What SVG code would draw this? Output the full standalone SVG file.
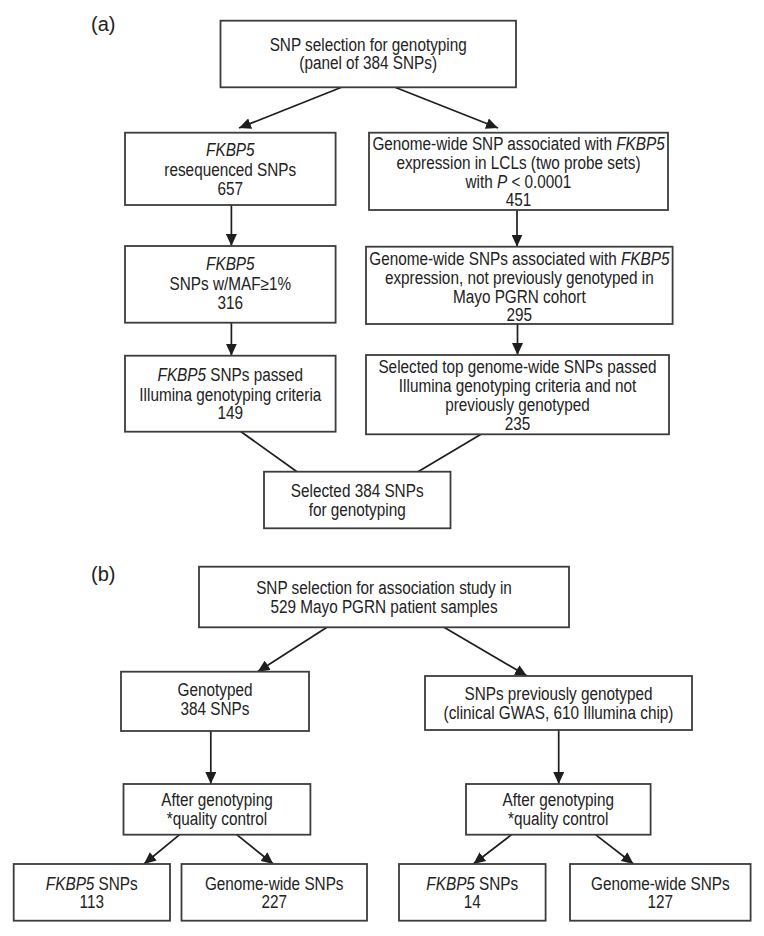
<svg xmlns="http://www.w3.org/2000/svg" width="764" height="936" viewBox="0 0 764 936">
<style>
.box{fill:#fff;stroke:#3c3c3c;stroke-width:1.8}
.t{font-family:"Liberation Sans",Arial,Helvetica,sans-serif;font-size:17.6px;fill:#222;text-anchor:middle;transform-box:fill-box;transform-origin:center;transform:scale(0.87,1)}
.i{font-style:italic}
.lbl{font-family:"Liberation Sans",Arial,Helvetica,sans-serif;font-size:20px;fill:#222}
.c{stroke:#1e1e1e;stroke-width:1.7;fill:none}
</style>
<defs>
<marker id="ah" markerUnits="userSpaceOnUse" markerWidth="12" markerHeight="11" refX="12" refY="5.5" orient="auto" viewBox="0 0 12 11">
<path d="M0,0 L12,5.5 L0,11 z" fill="#1e1e1e"/>
</marker>
</defs>
<rect width="764" height="936" fill="#fff"/>
<text class="lbl" x="91" y="31">(a)</text>
<text class="lbl" x="91" y="581">(b)</text>

<g id="connectors">
<line class="c" x1="341.6" y1="87.3" x2="239" y2="128" marker-end="url(#ah)"/>
<line class="c" x1="395" y1="87.3" x2="498" y2="128" marker-end="url(#ah)"/>
<line class="c" x1="231.4" y1="205" x2="231.4" y2="246" marker-end="url(#ah)"/>
<line class="c" x1="517" y1="210" x2="517" y2="246.7" marker-end="url(#ah)"/>
<line class="c" x1="231.4" y1="322.7" x2="231.4" y2="355.7" marker-end="url(#ah)"/>
<line class="c" x1="517.5" y1="324" x2="517.5" y2="355" marker-end="url(#ah)"/>
<line class="c" x1="241" y1="431.7" x2="297" y2="471.7"/>
<line class="c" x1="481" y1="434.3" x2="418" y2="471.7"/>
<line class="c" x1="327" y1="627.3" x2="257.6" y2="671.7" marker-end="url(#ah)"/>
<line class="c" x1="444" y1="627.3" x2="527" y2="676" marker-end="url(#ah)"/>
<line class="c" x1="210.8" y1="731" x2="210.8" y2="784" marker-end="url(#ah)"/>
<line class="c" x1="558.7" y1="730" x2="558.7" y2="784" marker-end="url(#ah)"/>
<line class="c" x1="179.6" y1="834.7" x2="144" y2="864" marker-end="url(#ah)"/>
<line class="c" x1="236.7" y1="834.7" x2="273.3" y2="864" marker-end="url(#ah)"/>
<line class="c" x1="511.5" y1="834.7" x2="473.4" y2="864" marker-end="url(#ah)"/>
<line class="c" x1="595.5" y1="834.7" x2="633.5" y2="864" marker-end="url(#ah)"/>
</g>

<g id="a-top">
<rect class="box" x="220.5" y="20.7" width="295.5" height="66.6"/>
<text class="t" x="368.2" y="51.3">SNP selection for genotyping</text>
<text class="t" x="368.2" y="69.3">(panel of 384 SNPs)</text>
</g>
<g id="a-fkbp5-reseq">
<rect class="box" x="125" y="132.7" width="210.6" height="72.3"/>
<text class="t i" x="230.3" y="156.3">FKBP5</text>
<text class="t" x="230.3" y="175.6">resequenced SNPs</text>
<text class="t" x="230.3" y="194.6">657</text>
</g>
<g id="a-gw-assoc">
<rect class="box" x="369" y="132.7" width="299" height="77.3"/>
<text class="t" x="518.5" y="149.6">Genome-wide SNP associated with <tspan class="i">FKBP5</tspan></text>
<text class="t" x="518.5" y="169">expression in LCLs (two probe sets)</text>
<text class="t" x="518.5" y="188">with <tspan class="i">P</tspan> &lt; 0.0001</text>
<text class="t" x="518.5" y="206.3">451</text>
</g>
<g id="a-fkbp5-maf">
<rect class="box" x="125" y="246" width="210.6" height="76.7"/>
<text class="t i" x="230.3" y="270.3">FKBP5</text>
<text class="t" x="230.3" y="289.6">SNPs w/MAF≥1%</text>
<text class="t" x="230.3" y="309">316</text>
</g>
<g id="a-gw-notgeno">
<rect class="box" x="366" y="246.7" width="306.6" height="77.3"/>
<text class="t" x="519.3" y="264.6">Genome-wide SNPs associated with <tspan class="i">FKBP5</tspan></text>
<text class="t" x="519.3" y="283.6">expression, not previously genotyped in</text>
<text class="t" x="519.3" y="303">Mayo PGRN cohort</text>
<text class="t" x="519.3" y="321.3">295</text>
</g>
<g id="a-fkbp5-passed">
<rect class="box" x="125" y="355.7" width="210.6" height="76"/>
<text class="t" x="230.3" y="381.3"><tspan class="i">FKBP5</tspan> SNPs passed</text>
<text class="t" x="230.3" y="400.6">Illumina genotyping criteria</text>
<text class="t" x="230.3" y="419">149</text>
</g>
<g id="a-gw-selected">
<rect class="box" x="366" y="355" width="303" height="79.3"/>
<text class="t" x="517.5" y="373">Selected top genome-wide SNPs passed</text>
<text class="t" x="517.5" y="392.3">Illumina genotyping criteria and not</text>
<text class="t" x="517.5" y="411.3">previously genotyped</text>
<text class="t" x="517.5" y="429.6">235</text>
</g>
<g id="a-selected384">
<rect class="box" x="264" y="471.7" width="186.5" height="56.6"/>
<text class="t" x="357.2" y="497">Selected 384 SNPs</text>
<text class="t" x="357.2" y="516">for genotyping</text>
</g>

<g id="b-top">
<rect class="box" x="199" y="566.7" width="370" height="60.6"/>
<text class="t" x="384" y="594">SNP selection for association study in</text>
<text class="t" x="384" y="613">529 Mayo PGRN patient samples</text>
</g>
<g id="b-genotyped">
<rect class="box" x="121" y="671.7" width="188" height="59.3"/>
<text class="t" x="215" y="695.6">Genotyped</text>
<text class="t" x="215" y="714.6">384 SNPs</text>
</g>
<g id="b-prev">
<rect class="box" x="425" y="676" width="267" height="54"/>
<text class="t" x="558.5" y="700.3">SNPs previously genotyped</text>
<text class="t" x="558.5" y="719">(clinical GWAS, 610 Illumina chip)</text>
</g>
<g id="b-qc-left">
<rect class="box" x="123.5" y="784" width="186.9" height="50.7"/>
<text class="t" x="217" y="806.3">After genotyping</text>
<text class="t" x="217" y="824.6">*quality control</text>
</g>
<g id="b-qc-right">
<rect class="box" x="466" y="784" width="184.6" height="50.7"/>
<text class="t" x="558.3" y="806.3">After genotyping</text>
<text class="t" x="558.3" y="824.6">*quality control</text>
</g>
<g id="b-fkbp5-113">
<rect class="box" x="13.7" y="864" width="156.3" height="56.7"/>
<text class="t" x="91.8" y="889.6"><tspan class="i">FKBP5</tspan> SNPs</text>
<text class="t" x="91.8" y="908">113</text>
</g>
<g id="b-gw-227">
<rect class="box" x="181.5" y="864" width="185.5" height="56.7"/>
<text class="t" x="274.2" y="889.6">Genome-wide SNPs</text>
<text class="t" x="274.2" y="908">227</text>
</g>
<g id="b-fkbp5-14">
<rect class="box" x="399" y="864" width="146.6" height="56.7"/>
<text class="t" x="472.3" y="889.6"><tspan class="i">FKBP5</tspan> SNPs</text>
<text class="t" x="472.3" y="908">14</text>
</g>
<g id="b-gw-127">
<rect class="box" x="570" y="864" width="180.6" height="56.7"/>
<text class="t" x="660.3" y="889.6">Genome-wide SNPs</text>
<text class="t" x="660.3" y="908">127</text>
</g>
</svg>
